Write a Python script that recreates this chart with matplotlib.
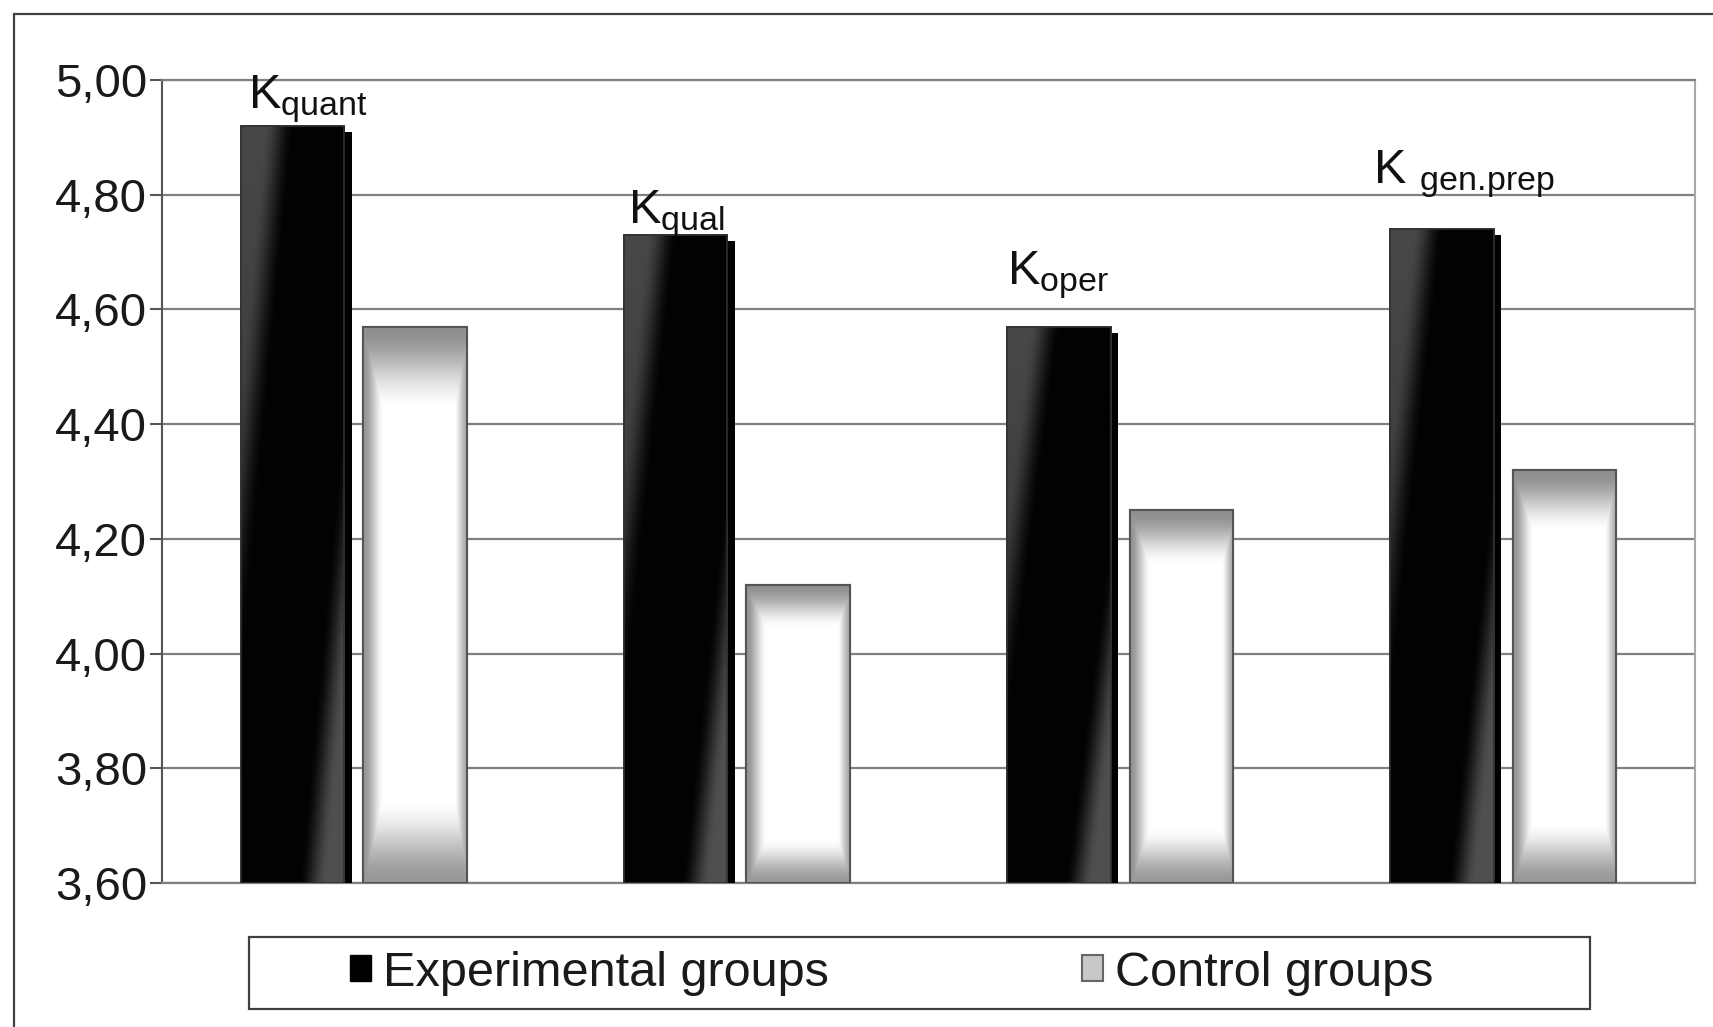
import matplotlib

matplotlib.use("Agg")
import matplotlib.pyplot as plt
import matplotlib.patheffects as pe
import numpy as np
from matplotlib.patches import Patch, Rectangle

plt.rcParams["font.family"] = ["Liberation Sans", "DejaVu Sans"]
plt.rcParams["mathtext.fontset"] = "custom"
plt.rcParams["mathtext.rm"] = "Liberation Sans"
plt.rcParams["mathtext.it"] = "Liberation Sans"

# values
categories = ["quant", "qual", "oper", "gen.prep"]
experimental = [4.92, 4.73, 4.57, 4.74]
control = [4.57, 4.12, 4.25, 4.32]
y_ticks = [3.60, 3.80, 4.00, 4.20, 4.40, 4.60, 4.80, 5.00]
y_tick_labels = ["3,60", "3,80", "4,00", "4,20", "4,40", "4,60", "4,80", "5,00"]
series_labels = ["Experimental groups", "Control groups"]

# label placement (x offset from experimental bar's left edge, baseline y)
label_dx = [0.02, 0.01, 0.0, -0.045]
label_y = [4.951, 4.750, 4.644, 4.820]

Y0, Y1 = 3.60, 5.00
W, OFF = 0.27, 0.16

fig = plt.figure(figsize=(17.13, 10.27), dpi=100)
ax = fig.add_axes([162 / 1713, 1 - 883 / 1027, (1695 - 162) / 1713, (883 - 80) / 1027])

x = np.arange(len(categories))
exp_bars = ax.bar(x - OFF, np.array(experimental) - Y0, bottom=Y0, width=W,
                  color="black", edgecolor="#303030", linewidth=1.2, zorder=3,
                  path_effects=[pe.SimplePatchShadow(offset=(5.5, -4.3), shadow_rgbFace="black",
                                                     alpha=1.0), pe.Normal()])
ctl_bars = ax.bar(x + OFF, np.array(control) - Y0, bottom=Y0, width=W,
                  color="white", edgecolor="#555555", linewidth=1.5, zorder=3)


def smooth(t):
    t = np.clip(t, 0, 1)
    return t * t * (3 - 2 * t)


# glossy shading for the dark bars, pillow shading for the light ones
u, v = np.meshgrid(np.linspace(0, 1, 120), np.linspace(0, 1, 300))
s = u - 0.7 * v
gloss = (0.01 + 0.27 * smooth((-0.18 - s) / 0.3) * (0.7 + 0.3 * v)
         + 0.30 * smooth((s - 0.55) / 0.28))
dark = np.maximum.reduce([
    0.44 * smooth((v - 0.85) / 0.15),
    0.40 * smooth((0.15 - v) / 0.15),
    0.42 * smooth((0.2 - u) / 0.2),
    0.33 * smooth((u - 0.88) / 0.12),
])
pillow = 1 - dark

for bars, img in ((exp_bars, gloss), (ctl_bars, pillow)):
    for b in bars:
        bx, by, bw, bh = b.get_x(), b.get_y(), b.get_width(), b.get_height()
        im = ax.imshow(img, extent=[bx, bx + bw, by, by + bh], origin="lower",
                       cmap="gray", vmin=0, vmax=1, aspect="auto", zorder=3.5,
                       interpolation="bilinear")
        im.set_clip_path(b)
        edge = Rectangle((bx, by), bw, bh, facecolor="none", edgecolor=b.get_edgecolor(),
                         linewidth=b.get_linewidth(), zorder=4)
        ax.add_patch(edge)

for i, cat in enumerate(categories):
    sep = " " if "." in cat else ""
    # mathtext puts a thin space after '.', pull it back
    sub = cat.replace(".", r".\!")
    ax.text(exp_bars[i].get_x() + label_dx[i], label_y[i],
            "K" + sep + r"$_{\mathrm{" + sub + "}}$",
            fontsize=35, ha="left", va="baseline", color="#111111", zorder=5)

ax.set_xlim(-0.5, len(categories) - 0.5)
ax.set_ylim(Y0, Y1)
ax.set_yticks(y_ticks)
ax.set_yticklabels(y_tick_labels)
ax.set_xticks([])
ax.tick_params(axis="y", direction="out", length=8.6, width=1.5, color="#555555",
               labelsize=34, pad=2, labelcolor="#1a1a1a")
ax.set_axisbelow(True)
ax.yaxis.grid(True, color="#808080", linewidth=1.6)
ax.spines["left"].set_color("#555555")
ax.spines["left"].set_linewidth(1.5)
ax.spines["right"].set_color("#a8a8a8")
ax.spines["right"].set_linewidth(1.5)
ax.spines["bottom"].set_color("#808080")
ax.spines["bottom"].set_linewidth(1.6)
ax.spines["top"].set_color("#808080")
ax.spines["top"].set_linewidth(1.6)

# outer frame (only left and top edges fall inside the picture)
fig.add_artist(Rectangle((14 / 1713, -0.2), 2, 1.2 - 14 / 1027, transform=fig.transFigure,
                         facecolor="none", edgecolor="#404040", linewidth=1.6))

# legend box and entries
fig.add_artist(Rectangle((249 / 1713, 1 - 1009 / 1027), (1590 - 249) / 1713, 72 / 1027,
                         transform=fig.transFigure, facecolor="white",
                         edgecolor="#404040", linewidth=1.6, zorder=1))
handles = [Patch(facecolor="black", edgecolor="black"),
           Patch(facecolor="#c8c8c8", edgecolor="#666666", linewidth=1.5)]
leg = fig.legend(handles, series_labels, loc="center left",
                 bbox_to_anchor=(350 / 1713, 1 - 973 / 1027), ncol=2, frameon=False,
                 fontsize=35, handlelength=0.43, handleheight=0.43, handletextpad=0.25,
                 columnspacing=5.2, borderpad=0, borderaxespad=0)
for t in leg.get_texts():
    t.set_color("#1a1a1a")
leg.set_zorder(2)

fig.savefig("out.png", dpi=100)
